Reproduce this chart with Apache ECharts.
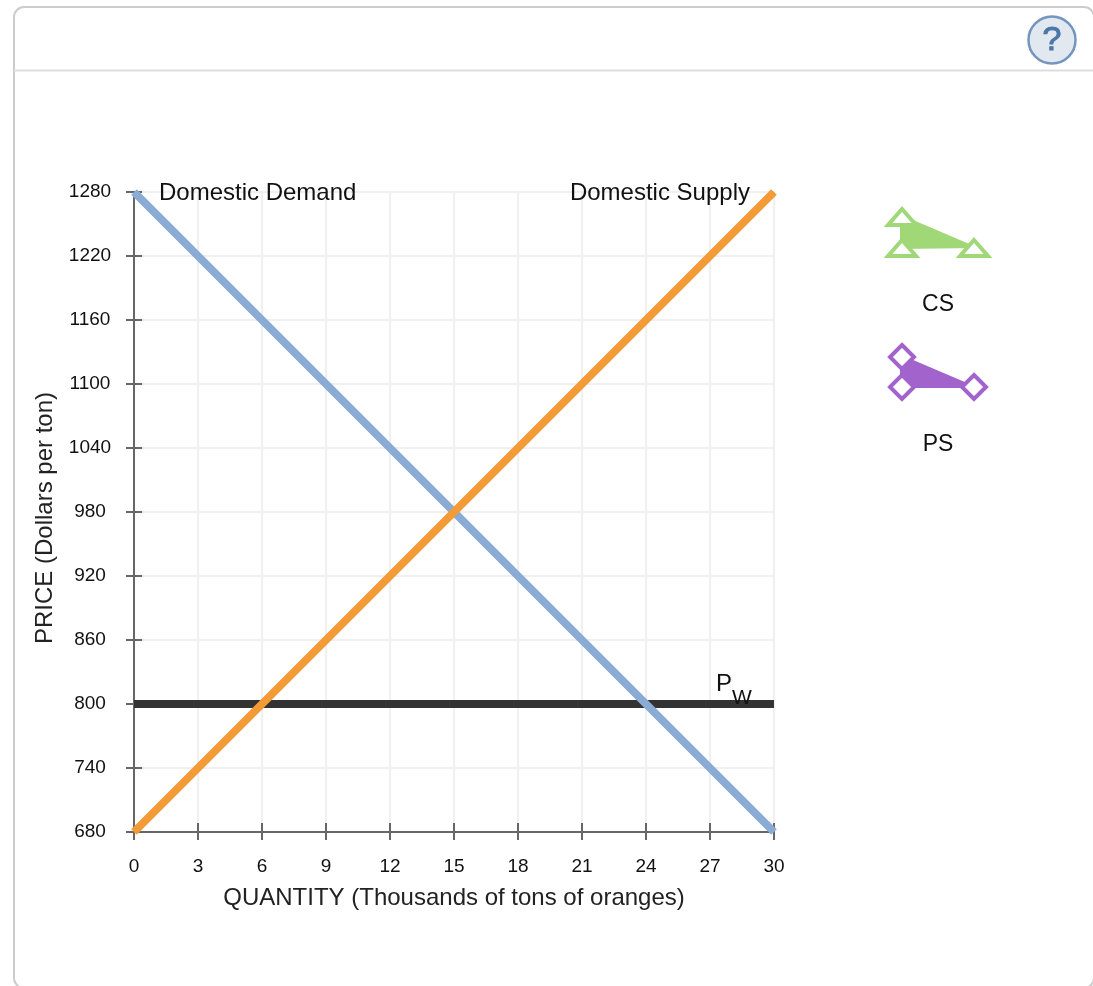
<!DOCTYPE html>
<html><head><meta charset="utf-8">
<style>html,body{margin:0;padding:0;background:#fff;overflow:hidden}#c{width:1093px;height:986px}</style>
<script src="https://cdn.jsdelivr.net/npm/echarts@6/dist/echarts.min.js"></script>
</head><body><div id="c"></div>
<script>
const xTicks = [0,3,6,9,12,15,18,21,24,27,30];
const yTicks = [680,740,800,860,920,980,1040,1100,1160,1220,1280];
const demand = [[0,1280],[30,680]];
const supply = [[0,680],[30,1280]];
const worldPrice = [[0,800],[30,800]];
const xTitle = 'QUANTITY (Thousands of tons of oranges)';
const yTitle = 'PRICE (Dollars per ton)';
const FONT = '"Liberation Sans", Arial, sans-serif';
const chart = echarts.init(document.getElementById('c'), null, {renderer:'canvas'});
const axisLine = {show:true, onZero:false, lineStyle:{color:'#666', width:2}};
const tri = (cx, top) => ({type:'polygon', silent:true, shape:{points:[[cx,top+3],[cx+14,top+19],[cx-14,top+19]]},
  style:{fill:'#fff', stroke:'#a0d878', lineWidth:4}, z:3});
const dia = (cx, cy) => ({type:'polygon', silent:true, shape:{points:[[cx,cy-12],[cx+12,cy],[cx,cy+12],[cx-12,cy]]},
  style:{fill:'#fff', stroke:'#a263cc', lineWidth:4}, z:3});
const note = (text, coord, position, extra) => ({
  name:text, coord, symbolSize:0.01,
  label:Object.assign({show:true, formatter:text, position, color:'#111', fontFamily:FONT, fontSize:24, offset:[0,1]}, extra||{})
});
chart.setOption({
  animation:false,
  backgroundColor:'#fff',
  textStyle:{fontFamily:FONT},
  grid:{left:134, top:192, width:640, height:640, containLabel:false},
  xAxis:[
    {type:'value', min:0, max:30, position:'bottom', name:xTitle, nameLocation:'middle', nameGap:54,
     nameTextStyle:{fontFamily:FONT, fontSize:24, color:'#222'},
     axisLine, axisTick:{show:true, length:8, customValues:xTicks, lineStyle:{color:'#666', width:2}},
     axisLabel:{show:true, customValues:xTicks, margin:25, color:'#111', fontFamily:FONT, fontSize:19, formatter:v=>String(v)},
     splitLine:{show:true, lineStyle:{color:'#f0f0f0', width:2}}},
    {type:'value', min:0, max:30, position:'bottom', axisLine:{show:false},
     axisTick:{show:true, inside:true, length:9, customValues:xTicks, lineStyle:{color:'#666', width:2}},
     axisLabel:{show:false}, splitLine:{show:false}}
  ],
  yAxis:[
    {type:'value', min:680, max:1280, position:'left', name:yTitle, nameLocation:'middle', nameGap:77, nameRotate:90,
     nameTextStyle:{fontFamily:FONT, fontSize:24, color:'#222', padding:[0,12,0,0]},
     axisLine, axisTick:{show:true, length:8, customValues:yTicks, lineStyle:{color:'#666', width:2}},
     axisLabel:{show:true, customValues:yTicks, margin:44, align:'center', color:'#111', fontFamily:FONT, fontSize:19, formatter:v=>String(v)},
     splitLine:{show:true, lineStyle:{color:'#f0f0f0', width:2}}},
    {type:'value', min:680, max:1280, position:'left', axisLine:{show:false},
     axisTick:{show:true, inside:true, length:8, customValues:yTicks, lineStyle:{color:'#666', width:2}},
     axisLabel:{show:false}, splitLine:{show:false}}
  ],
  series:[
    {name:'PW', type:'line', data:worldPrice, symbol:'none', clip:false, z:3,
     lineStyle:{color:'#333', width:8, cap:'butt'},
     markPoint:{symbol:'circle', silent:true, z:9, data:[
       {name:'PW', coord:[28.4,800], symbolSize:0.01,
        label:{show:true, position:'top', distance:0, offset:[-6,20], formatter:'{p|P}{w|W}',
          rich:{p:{fontFamily:FONT, fontSize:24, color:'#111', padding:[0,0,28,0]},
                w:{fontFamily:FONT, fontSize:21, color:'#111'}}}}
     ]}},
    {name:'Domestic Demand', type:'line', data:demand, symbol:'none', clip:false, z:4,
     lineStyle:{color:'#8aabd3', width:8, cap:'butt'},
     markPoint:{symbol:'circle', silent:true, data:[note('Domestic Demand',[0,1280],'right',{distance:25})]}},
    {name:'Domestic Supply', type:'line', data:supply, symbol:'none', clip:false, z:5,
     lineStyle:{color:'#f39c37', width:8, cap:'butt'},
     markPoint:{symbol:'circle', silent:true, data:[note('Domestic Supply',[30,1280],'left',{distance:24})]}}
  ],
  graphic:{elements:[
    {type:'rect', silent:true, z:-10, shape:{x:14,y:7,width:1080,height:981,r:10}, style:{fill:'#fff',stroke:'#ccc',lineWidth:2}},
    {type:'line', silent:true, z:-9, shape:{x1:14,y1:70.5,x2:1093,y2:70.5}, style:{stroke:'#ddd',lineWidth:2}},
    {type:'circle', silent:true, shape:{cx:1052,cy:40,r:23.5}, style:{fill:'#e2e8ef',stroke:'#7396be',lineWidth:2.5}},
    {type:'text', silent:true, style:{x:1052,y:41,text:'?',align:'center',verticalAlign:'middle',fill:'#4a76a8',stroke:'#4a76a8',lineWidth:1,font:'34px '+FONT}},
    {type:'polygon', silent:true, shape:{points:[[901,216],[974,247],[901,248]]}, style:{fill:'#a0d878',stroke:'#a0d878',lineWidth:2}},
    tri(902,206), tri(902,237), tri(974,237),
    {type:'text', silent:true, style:{x:938,y:305,text:'CS',align:'center',verticalAlign:'middle',fill:'#111',font:'23px '+FONT}},
    {type:'polygon', silent:true, shape:{points:[[901,356],[974,387],[901,387]]}, style:{fill:'#a263cc',stroke:'#a263cc',lineWidth:2}},
    dia(902,357), dia(902,387), dia(974,387),
    {type:'text', silent:true, style:{x:938,y:445,text:'PS',align:'center',verticalAlign:'middle',fill:'#111',font:'23px '+FONT}}
  ]}
});
</script></body></html>
